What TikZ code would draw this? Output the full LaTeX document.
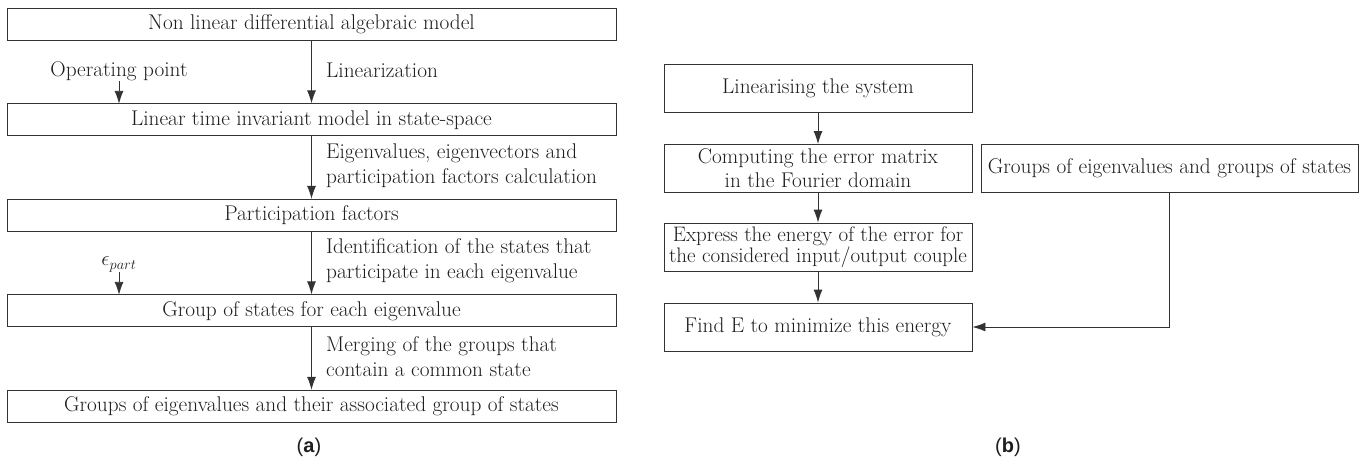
\documentclass[tikz,border=0pt]{standalone}
\usepackage{fontspec}
\newfontfamily\capfont{Liberation Sans}
\usetikzlibrary{arrows.meta}
\definecolor{ln}{HTML}{333333}
\definecolor{tx}{HTML}{1E1E1E}
\tikzset{
  box/.style={draw=ln, line width=0.9pt, inner sep=0pt, text=tx, align=center,
    font=\fontsize{21.3}{24}\selectfont},
  lbox/.style={box, minimum width=609pt, minimum height=32pt},
  rbox/.style={box, minimum width=308pt, minimum height=48pt},
  lab/.style={anchor=west, inner sep=0pt, text=tx, align=left,
    font=\fontsize{21.3}{24.5}\selectfont},
  sidelab/.style={inner sep=0pt, text=tx, anchor=south, font=\fontsize{21.3}{24}\selectfont},
  arr/.style={draw=ln, line width=0.9pt, -{Latex[length=13pt,width=9pt]}},
  captext/.style={inner sep=0pt, text=tx, font=\capfont\fontsize{20}{24}\selectfont}
}
\begin{document}
\begin{tikzpicture}[x=1pt,y=-1pt]
\useasboundingbox (0,0) rectangle (1365,467);
% ---- panel (a)
\node[lbox] (a1) at (311.5,24.3) {Non linear differential algebraic model};
\node[lbox] (a2) at (311.5,119.8) {Linear time invariant model in state-space};
\node[lbox] (a3) at (311.5,215.3) {Participation factors};
\node[lbox] (a4) at (311.5,310.8) {Group of states for each eigenvalue};
\node[lbox] (a5) at (311.5,406.3) {Groups of eigenvalues and their associated group of states};
\draw[arr] (a1) -- (a2);
\draw[arr] (a2) -- (a3);
\draw[arr] (a3) -- (a4);
\draw[arr] (a4) -- (a5);
\node[lab] (l1) at (326,70) {Linearization};
\node[lab] (l2) at (326,165.5) {Eigenvalues, eigenvectors and\\participation factors calculation};
\node[lab] (l3) at (326,260.5) {Identification of the states that\\participate in each eigenvalue};
\node[lab] (l4) at (326,356.5) {Merging of the groups that\\contain a common state};
\node[sidelab] (op) at (119,81) {Operating point};
\coordinate (opt) at (119,103.8);
\draw[arr] (op.south) -- (opt);
\node[sidelab] (ep) at (119,272) {$\epsilon_{part}$};
\coordinate (ept) at (119,294.8);
\draw[arr] (ep.south) -- (ept);
\node[captext] (ca) at (309,447) {(\textbf{a})};
% ---- panel (b)
\node[rbox] (b1) at (818,88) {Linearising the system};
\node[rbox, font=\fontsize{21.3}{24}\selectfont] (b2) at (818,168.5) {Computing the error matrix\\in the Fourier domain};
\node[rbox, font=\fontsize{21}{19}\selectfont] (b3) at (818,247) {Express the energy of the error for\\the considered input/output couple};
\node[rbox] (b4) at (818,327) {Find E to minimize this energy};
\node[box, minimum width=377pt, minimum height=48pt] (bg) at (1169.5,168) {Groups of eigenvalues and groups of states};
\draw[arr] (b1) -- (b2);
\draw[arr] (b2) -- (b3);
\draw[arr] (b3) -- (b4);
\draw[arr] (bg.south) |- (b4.east);
\node[captext] (cb) at (1008,447) {(\textbf{b})};
\end{tikzpicture}
\end{document}
